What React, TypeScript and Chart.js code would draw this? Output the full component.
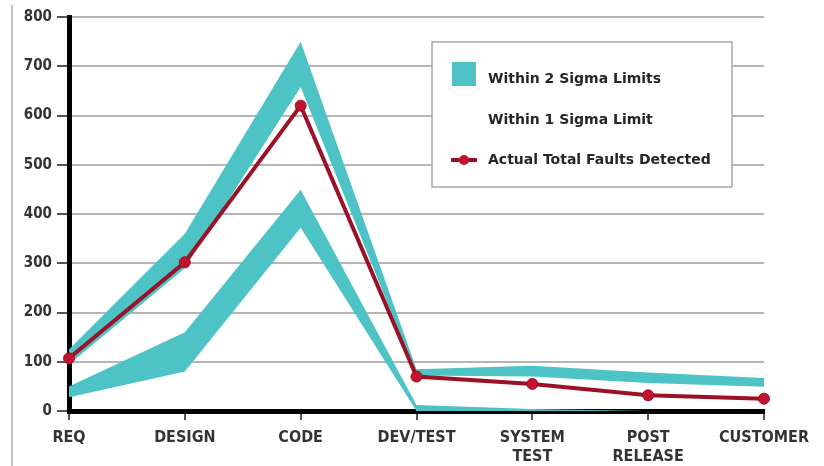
import React, { useEffect, useRef } from "react";
import { Chart, registerables } from "chart.js";

Chart.register(...registerables);

const categories: string[][] = [
  ["REQ"],
  ["DESIGN"],
  ["CODE"],
  ["DEV/TEST"],
  ["SYSTEM", "TEST"],
  ["POST", "RELEASE"],
  ["CUSTOMER"],
];
const actualFaults = [107, 302, 620, 70, 55, 32, 25];
const sigma2Upper = [125, 360, 750, 85, 92, 78, 67];
const sigma1Upper = [95, 290, 658, 72, 70, 57, 49];
const sigma1Lower = [50, 160, 449, 12, 4, 0, 0];
const sigma2Lower = [28, 80, 372, 0, 0, 0, 0];
const yTicks = [0, 100, 200, 300, 400, 500, 600, 700, 800];
const legendLabels = [
  "Within 2 Sigma Limits",
  "Within 1 Sigma Limit",
  "Actual Total Faults Detected",
];

const TEAL = "#4ec3c6";
const RED_LINE = "#9a1228";
const RED_POINT = "#c41230";
const FONT = "'DejaVu Sans Condensed', 'DejaVu Sans', sans-serif";
const LEGEND_FONT = "'DejaVu Sans', sans-serif";

const framePlugin = {
  id: "frameLine",
  beforeDraw(chart: any) {
    const ctx = chart.ctx;
    ctx.save();
    ctx.fillStyle = "#ffffff";
    ctx.fillRect(0, 0, chart.width, chart.height);
    ctx.strokeStyle = "#c4c4c4";
    ctx.lineWidth = 2;
    ctx.beginPath();
    ctx.moveTo(12, 5);
    ctx.lineTo(12, chart.height);
    ctx.stroke();
    ctx.restore();
  },
};

const legendPlugin = {
  id: "customLegend",
  afterDraw(chart: any) {
    const ctx = chart.ctx;
    const x = 432;
    const y = 42;
    const w = 300;
    const h = 145;
    ctx.save();
    ctx.fillStyle = "#ffffff";
    ctx.fillRect(x, y, w, h);
    ctx.strokeStyle = "#a8a8a8";
    ctx.lineWidth = 1.5;
    ctx.strokeRect(x, y, w, h);

    // teal square
    ctx.fillStyle = TEAL;
    ctx.fillRect(452, 62, 24, 24);

    // red line marker
    ctx.strokeStyle = RED_LINE;
    ctx.lineWidth = 4;
    ctx.beginPath();
    ctx.moveTo(451, 160);
    ctx.lineTo(477, 160);
    ctx.stroke();
    ctx.fillStyle = RED_POINT;
    ctx.beginPath();
    ctx.arc(464, 160, 5, 0, Math.PI * 2);
    ctx.fill();

    ctx.fillStyle = "#262626";
    ctx.font = `bold 14px ${LEGEND_FONT}`;
    ctx.textBaseline = "middle";
    ctx.textAlign = "left";
    const rows = [79, 120, 160];
    legendLabels.forEach((t, i) => ctx.fillText(t, 488, rows[i]));
    ctx.restore();
  },
};

export default function App() {
  const canvasRef = useRef<HTMLCanvasElement | null>(null);

  useEffect(() => {
    if (!canvasRef.current) return;
    const bandBase = {
      type: "line" as const,
      borderWidth: 0,
      borderColor: "rgba(0,0,0,0)",
      pointRadius: 0,
      pointHoverRadius: 0,
      tension: 0,
      order: 2,
    };
    const chart = new Chart(canvasRef.current, {
      type: "line",
      data: {
        labels: categories,
        datasets: [
          {
            label: legendLabels[2],
            data: actualFaults,
            borderColor: RED_LINE,
            borderWidth: 4,
            pointRadius: 5.5,
            pointBackgroundColor: RED_POINT,
            pointBorderColor: RED_LINE,
            pointBorderWidth: 1,
            tension: 0,
            fill: false,
            order: 0,
          },
          { ...bandBase, label: "2 sigma upper", data: sigma2Upper, fill: false },
          { ...bandBase, label: "1 sigma upper", data: sigma1Upper, fill: 1, backgroundColor: TEAL },
          { ...bandBase, label: "1 sigma lower", data: sigma1Lower, fill: false },
          { ...bandBase, label: "2 sigma lower", data: sigma2Lower, fill: 3, backgroundColor: TEAL },
        ],
      },
      options: {
        responsive: false,
        animation: false,
        layout: { padding: { top: 17, right: 60, left: 0, bottom: 0 } },
        plugins: {
          legend: { display: false },
          tooltip: { enabled: false },
        },
        scales: {
          x: {
            offset: false,
            grid: {
              drawOnChartArea: false,
              drawTicks: true,
              tickLength: 9,
              tickColor: "#555555",
              lineWidth: 2,
            },
            border: { display: true, color: "#000000", width: 5 },
            ticks: {
              color: "#333333",
              font: { family: FONT, size: 16, weight: "bold", lineHeight: 1.15 },
              padding: 9,
              maxRotation: 0,
              autoSkip: false,
            },
            afterFit(scale: any) {
              scale.height = 55;
            },
          },
          y: {
            min: 0,
            max: 800,
            afterBuildTicks(scale: any) {
              scale.ticks = yTicks.map((v) => ({ value: v }));
            },
            grid: {
              color: "#b5b5b5",
              lineWidth: 2,
              tickLength: 12,
              tickColor: "#555555",
            },
            border: { display: true, color: "#000000", width: 5 },
            ticks: {
              color: "#333333",
              font: { family: FONT, size: 15, weight: "bold" },
              padding: 5,
            },
            afterFit(scale: any) {
              scale.width = 69;
            },
          },
        },
      },
      plugins: [framePlugin, legendPlugin],
    });
    return () => chart.destroy();
  }, []);

  return (
    <div
      style={{
        position: "fixed",
        left: 0,
        top: 0,
        width: 824,
        height: 466,
        background: "#ffffff",
      }}
    >
      <canvas ref={canvasRef} width={824} height={466} style={{ display: "block" }} />
    </div>
  );
}
